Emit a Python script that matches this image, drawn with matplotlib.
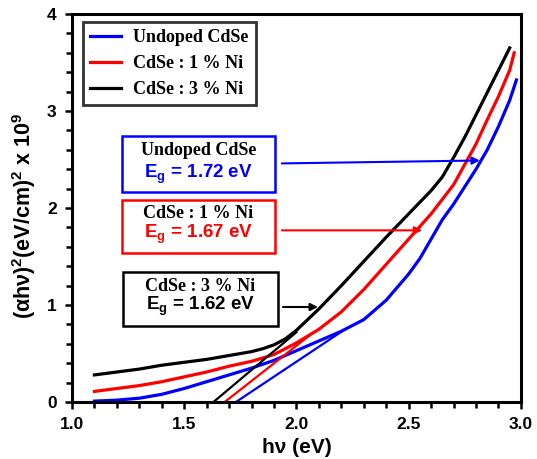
import numpy as np
import matplotlib
matplotlib.use('Agg')
import matplotlib.pyplot as plt
from matplotlib.patches import Rectangle
from matplotlib.ticker import MultipleLocator

plt.rcParams['font.family'] = ['Liberation Sans', 'DejaVu Sans']
plt.rcParams['mathtext.fontset'] = 'custom'
plt.rcParams['mathtext.rm'] = 'Liberation Sans'
plt.rcParams['mathtext.bf'] = 'Liberation Sans:bold'

# Tauc plot data
undoped_x = [1.10, 1.20, 1.30, 1.40, 1.50, 1.60, 1.70, 1.80, 1.90, 2.00, 2.10, 2.20, 2.30,
             2.40, 2.50, 2.55, 2.60, 2.65, 2.70, 2.75, 2.80, 2.85, 2.90, 2.95, 2.98]
undoped_y = [0.01, 0.02, 0.04, 0.08, 0.14, 0.21, 0.28, 0.35, 0.43, 0.53, 0.63, 0.73, 0.85,
             1.05, 1.32, 1.48, 1.68, 1.88, 2.04, 2.22, 2.40, 2.60, 2.84, 3.11, 3.32]

ni1_x = [1.10, 1.20, 1.30, 1.40, 1.50, 1.60, 1.70, 1.80, 1.90, 2.00, 2.10, 2.20, 2.30,
         2.40, 2.50, 2.60, 2.70, 2.80, 2.85, 2.90, 2.95, 2.97]
ni1_y = [0.11, 0.14, 0.17, 0.21, 0.26, 0.31, 0.37, 0.42, 0.49, 0.61, 0.75, 0.93, 1.16,
         1.42, 1.68, 1.94, 2.24, 2.66, 2.91, 3.15, 3.42, 3.60]

ni3_x = [1.10, 1.20, 1.30, 1.40, 1.50, 1.60, 1.70, 1.80, 1.85, 1.90, 1.95, 2.00, 2.10,
         2.20, 2.30, 2.40, 2.50, 2.60, 2.65, 2.70, 2.75, 2.80, 2.85, 2.90, 2.95]
ni3_y = [0.28, 0.31, 0.34, 0.38, 0.41, 0.44, 0.48, 0.52, 0.55, 0.59, 0.65, 0.74, 0.96,
         1.20, 1.45, 1.70, 1.94, 2.18, 2.32, 2.52, 2.73, 2.96, 3.19, 3.42, 3.65]

# linear extrapolation segments (x, y)
fit_undoped = ([1.73, 2.21], [0.0, 0.74])
fit_ni1 = ([1.68, 2.06], [0.0, 0.69])
fit_ni3 = ([1.63, 2.00], [0.0, 0.72])

labels = ['Undoped CdSe', 'CdSe : 1 % Ni', 'CdSe : 3 % Ni']
gaps = ['1.72', '1.67', '1.62']
colors = ['#0000ff', '#ff0000', '#000000']

fig = plt.figure(figsize=(5.37, 4.59), dpi=100)
ax = fig.add_axes([0.134, 0.124, 0.836, 0.8455])

ax.plot(undoped_x, undoped_y, color=colors[0], lw=2.3, label=labels[0], solid_joinstyle='round')
ax.plot(ni1_x, ni1_y, color=colors[1], lw=2.3, label=labels[1], solid_joinstyle='round')
ax.plot(ni3_x, ni3_y, color=colors[2], lw=2.3, label=labels[2], solid_joinstyle='round')
for fit, c in zip([fit_undoped, fit_ni1, fit_ni3], colors):
    ax.plot(fit[0], fit[1], color=c, lw=1.6, clip_on=False)

ax.set_xlim(1.0, 3.0)
ax.set_ylim(0, 4)
ax.xaxis.set_major_locator(MultipleLocator(0.5))
ax.xaxis.set_minor_locator(MultipleLocator(0.1))
ax.yaxis.set_major_locator(MultipleLocator(1))
ax.yaxis.set_minor_locator(MultipleLocator(0.2))
ax.set_xticks([1.0, 1.5, 2.0, 2.5, 3.0])
ax.set_xticklabels(['1.0', '1.5', '2.0', '2.5', '3.0'])
ax.tick_params(which='both', direction='out', width=1.8, top=False, right=False)
ax.tick_params(which='major', length=5, pad=6, labelsize=12.5)
ax.tick_params(which='minor', length=4)
for lab in ax.get_xticklabels() + ax.get_yticklabels():
    lab.set_fontweight('bold')
for sp in ax.spines.values():
    sp.set_linewidth(2.2)

ax.set_xlabel('h\u03bd (eV)', fontsize=15, fontweight='bold', labelpad=4)
ax.set_ylabel('(\u03b1h\u03bd)$^{\\mathbf{2}}$(eV/cm)$^{\\mathbf{2}}$ x 10$^{\\mathbf{9}}$',
              fontsize=15.5, fontweight='bold')
ax.yaxis.set_label_coords(-0.076, 0.48)

leg = ax.legend(loc='upper left', bbox_to_anchor=(0.024, 0.98), borderaxespad=0,
                frameon=True, fancybox=False, handlelength=1.7, handletextpad=0.7,
                labelspacing=0.5,
                prop={'family': 'Liberation Serif', 'weight': 'bold', 'size': 13})
leg.get_frame().set_edgecolor('black')
leg.get_frame().set_linewidth(2.0)

# annotation boxes: (x0, y0, x1, y1, title y, Eg y) in axes fraction
boxes = [(0.111, 0.541, 0.452, 0.686, 0.647, 0.587),
         (0.111, 0.384, 0.452, 0.521, 0.485, 0.433),
         (0.114, 0.196, 0.459, 0.335, 0.297, 0.247)]
text_colors = ['#0000ff', '#ff0000', '#000000']
for (x0, y0, x1, y1, ty1, ty2), c, tc, lab, g in zip(boxes, colors, text_colors, labels, gaps):
    ax.add_patch(Rectangle((x0, y0), x1 - x0, y1 - y0, transform=ax.transAxes,
                           fill=False, edgecolor=c, lw=1.8))
    xc = (x0 + x1) / 2
    ax.text(xc, ty1, lab, transform=ax.transAxes, ha='center', va='center',
            family='Liberation Serif', fontweight='bold', fontsize=13, color='black')
    ax.text(xc, ty2, '$\\mathbf{E}_{\\mathbf{g}}$ = ' + g + ' eV', transform=ax.transAxes,
            ha='center', va='center', fontweight='bold', fontsize=13.5, color=tc)

# arrows pointing at the curves
arrows = [((1.935, 2.46), (2.817, 2.49)),
          ((1.935, 1.77), (2.56, 1.77)),
          ((1.94, 0.98), (2.096, 0.98))]
for (start, end), c in zip(arrows, colors):
    ax.annotate('', xy=end, xytext=start,
                arrowprops=dict(arrowstyle='-|>', color=c, lw=1.5, mutation_scale=11,
                                shrinkA=0, shrinkB=0))

fig.savefig('out.png', dpi=100)
